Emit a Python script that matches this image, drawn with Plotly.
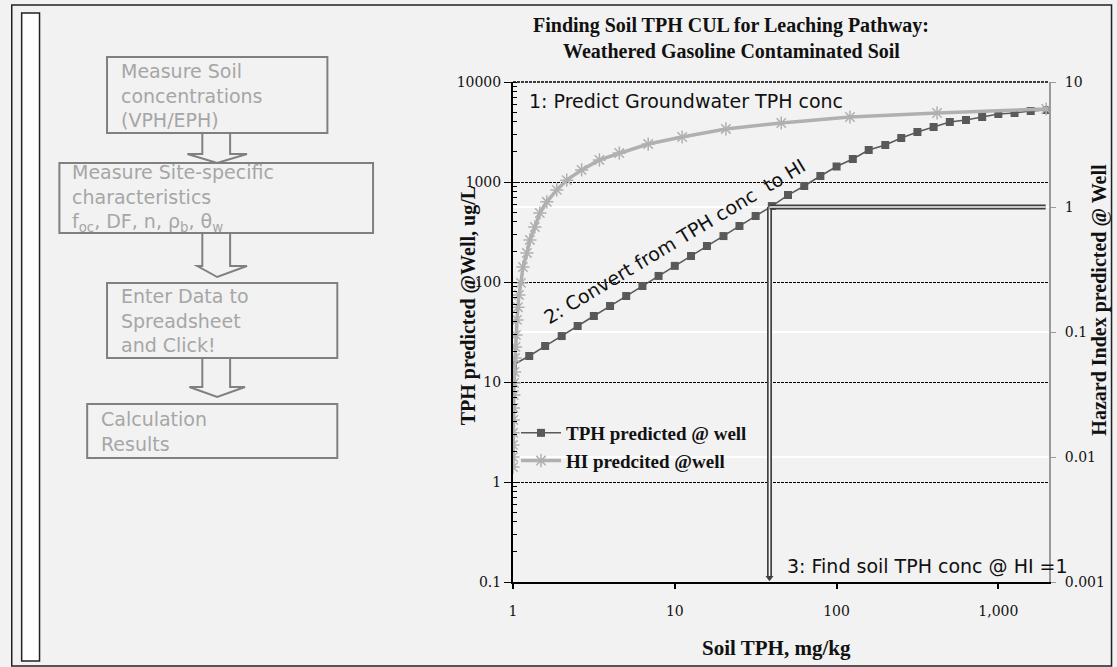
import plotly.graph_objects as go

# ---------------- data ----------------
soil_tph = [1, 1.26, 1.58, 2.0, 2.51, 3.16, 3.98, 5.01, 6.31, 7.94, 10, 12.6, 15.8, 20,
            25.1, 31.6, 39.8, 50.1, 63.1, 79.4, 100, 126, 158, 200, 251, 316, 398, 501,
            631, 794, 1000, 1259, 1585, 1995]
tph_well = [14.8, 18.2, 22.9, 28.8, 36.3, 45.7, 57.5, 72.4, 91.2, 115, 145, 182, 229, 288,
            363, 457, 575, 741, 912, 1148, 1429, 1698, 2089, 2344, 2754, 3162, 3548, 3981,
            4169, 4467, 4786, 4898, 5129, 5248]

hi_soil = [1.0, 1.0, 1.0, 1.002, 1.004, 1.008, 1.012, 1.016, 1.022, 1.029, 1.036, 1.043,
           1.058, 1.073, 1.088, 1.12, 1.152, 1.219, 1.272, 1.365, 1.465, 1.618, 1.865,
           2.148, 2.655, 3.42, 4.54, 6.85, 11.1, 20.7, 45.5, 121, 418, 1975]
hi_well = [0.0083, 0.0100, 0.0125, 0.0156, 0.0198, 0.0247, 0.0313, 0.0391, 0.0479, 0.0619,
           0.0759, 0.0946, 0.125, 0.158, 0.198, 0.247, 0.331, 0.429, 0.545, 0.692, 0.895,
           1.10, 1.37, 1.64, 1.98, 2.38, 2.70, 3.19, 3.63, 4.21, 4.70, 5.25, 5.65, 6.08]

x_ticks = [1, 10, 100, 1000]
x_tick_labels = ["1", "10", "100", "1,000"]
y_ticks = [0.1, 1, 10, 100, 1000, 10000]
y_tick_labels = ["0.1", "1", "10", "100", "1000", "10000"]
y2_ticks = [0.001, 0.01, 0.1, 1, 10]
y2_tick_labels = ["0.001", "0.01", "0.1", "1", "10"]

# guide for step 3: soil TPH where HI = 1
guide_soil = [38.5, 38.5]
guide_hi_vertical = [1, 0.00108]
guide_soil_h = [38.5, 1960]
guide_hi_h = [1, 1]

flow_steps = [
    ["Measure Soil", "concentrations", "(VPH/EPH)"],
    ["Measure Site-specific", "characteristics",
     "f<sub>oc</sub>, DF, n, \u03c1<sub>b</sub>, \u03b8<sub>w</sub>"],
    ["Enter Data to", "Spreadsheet", "and Click!"],
    ["Calculation", "Results"],
]

# ---------------- layout geometry (pixels) ----------------
W, H = 1117, 667
L, R, T, B = 513, 1053, 82, 582


def px(x):
    return (x - L) / (R - L)


def py(y):
    return (B - y) / (B - T)


SERIF = "Liberation Serif"
TICKF = dict(family="DejaVu Serif", size=14, color="#111")
DARK = "#595959"
LIGHT = "#b0b0b0"

fig = go.Figure()
fig.add_trace(go.Scatter(
    x=soil_tph, y=tph_well, mode="lines+markers", name="<b>TPH predicted @ well</b>",
    line=dict(color=DARK, width=1.5),
    marker=dict(symbol="square", size=8, color=DARK)))
fig.add_trace(go.Scatter(
    x=hi_soil, y=hi_well, yaxis="y2", mode="lines+markers", name="<b>HI predcited @well</b>",
    line=dict(color=LIGHT, width=3.5),
    marker=dict(symbol="asterisk-open", size=11, color=LIGHT,
                line=dict(color="#a3a3a3", width=1.5))))

# hollow guide lines
for xs, ys in [(guide_soil, guide_hi_vertical), (guide_soil_h, guide_hi_h)]:
    fig.add_trace(go.Scatter(x=xs, y=ys, yaxis="y2", mode="lines", showlegend=False,
                             hoverinfo="skip", line=dict(color="#404040", width=5)))
    fig.add_trace(go.Scatter(x=xs, y=ys, yaxis="y2", mode="lines", showlegend=False,
                             hoverinfo="skip", line=dict(color="#f6f6f6", width=1.6)))
fig.add_trace(go.Scatter(x=[guide_soil[1]], y=[guide_hi_vertical[1]], yaxis="y2",
                         mode="markers", showlegend=False, hoverinfo="skip",
                         marker=dict(symbol="triangle-down", size=7, color="#404040")))

shapes = []
annotations = []

# outer frame and left bar
shapes.append(dict(type="rect", xref="paper", yref="paper", x0=px(8), x1=px(1116),
                   y0=py(5), y1=py(666), line=dict(color="#222", width=1.5), layer="below"))
shapes.append(dict(type="rect", xref="paper", yref="paper", x0=px(18), x1=px(36),
                   y0=py(13), y1=py(661), line=dict(color="#222", width=1.5),
                   fillcolor="white", layer="below"))
# dotted top gridline (10000)
shapes.append(dict(type="line", xref="paper", yref="paper", x0=0, x1=1, y0=1, y1=1,
                   line=dict(color="black", width=1.4, dash="3px,1px")))

# flow chart boxes
boxes = [(104, 326, 57, 133), (56, 372, 163, 233), (104, 336, 283, 358), (84, 336, 404, 458)]
text_x = [116, 67, 116, 96]
BOXC = "#808080"
TXTC = "#a6a6a6"
for (x0, x1, y0, y1), tx, lines in zip(boxes, text_x, flow_steps):
    shapes.append(dict(type="rect", xref="paper", yref="paper", x0=px(x0), x1=px(x1),
                       y0=py(y0), y1=py(y1), line=dict(color=BOXC, width=2)))
    annotations.append(dict(xref="paper", yref="paper", x=px(tx), y=py((y0 + y1) / 2),
                            text="<br>".join(lines), align="left",
                            showarrow=False, xanchor="left", yanchor="middle",
                            font=dict(family="DejaVu Sans", size=19, color=TXTC)))

# hollow block arrows between boxes
arrows = [(133, 154, 185, 245, 163), (233, 266, 195, 245, 277), (358, 387, 187, 243, 397)]
for top, head_y, hx0, hx1, tip in arrows:
    sx0, sx1, cx = 200, 228, 215
    path = (f"M {px(sx0)},{py(top)} L {px(sx0)},{py(head_y)} L {px(hx0)},{py(head_y)} "
            f"L {px(cx)},{py(tip)} L {px(hx1)},{py(head_y)} L {px(sx1)},{py(head_y)} "
            f"L {px(sx1)},{py(top)}")
    shapes.append(dict(type="path", xref="paper", yref="paper", path=path,
                       line=dict(color=BOXC, width=2)))


def note(x, y, text, font, angle=0, xanchor="center"):
    return dict(xref="paper", yref="paper", x=px(x), y=py(y), showarrow=False,
                text=text, font=font, textangle=angle, xanchor=xanchor, yanchor="middle")


TF = dict(family=SERIF, size=20, color="#111")
SF = dict(family="DejaVu Sans", size=19, color="#111")
annotations += [
    note(733, 26, "<b>Finding Soil TPH CUL for Leaching Pathway:</b>", TF),
    note(733, 51, "<b>Weathered Gasoline Contaminated Soil</b>", TF),
    note(778, 648, "<b>Soil TPH, mg/kg</b>", dict(family=SERIF, size=21, color="#111")),
    note(468, 306, "<b>TPH predicted @Well, ug/L</b>", TF, angle=-90),
    note(1103, 300, "<b>Hazard Index predicted @ Well</b>", TF, angle=-90),
    note(527, 101, "1: Predict Groundwater TPH conc", SF, xanchor="left"),
    note(676, 241, "2: Convert from TPH conc  to HI", SF, angle=-31),
    note(787, 566, "3: Find soil TPH conc @ HI =1", SF, xanchor="left"),
]

fig.update_layout(
    width=W, height=H,
    margin=dict(l=L, r=W - R, t=T, b=H - B, pad=0),
    paper_bgcolor="#f2f2f2", plot_bgcolor="#f2f2f2",
    showlegend=True,
    legend=dict(x=px(516), y=py(414), xanchor="left", yanchor="top",
                bgcolor="rgba(0,0,0,0)", font=dict(family=SERIF, size=19, color="#111"),
                tracegroupgap=0, itemwidth=40),
    xaxis=dict(type="log", range=[0, 3.313], tickvals=x_ticks, ticktext=x_tick_labels,
               showline=True, linecolor="black", linewidth=2, ticks="outside",
               ticklen=5, tickcolor="black", tickwidth=2, showgrid=False, zeroline=False,
               tickfont=TICKF, ticklabelstandoff=10),
    yaxis=dict(type="log", range=[-1, 4], tickvals=y_ticks, ticktext=y_tick_labels,
               showline=True, linecolor="black", linewidth=2, ticks="outside",
               ticklen=7, tickcolor="black", showgrid=True, gridcolor="black",
               griddash="3px,1px", gridwidth=1.4, zeroline=False, tickfont=TICKF,
               minor=dict(ticks="inside", ticklen=4, tickcolor="black", dtick="D1",
                          showgrid=False)),
    yaxis2=dict(type="log", range=[-3, 1], overlaying="y", side="right",
                tickvals=y2_ticks, ticktext=y2_tick_labels, showline=True,
                linecolor="#9a9a9a", linewidth=2, ticks="outside", ticklen=5,
                tickcolor="#9a9a9a", showgrid=True, gridcolor="white", gridwidth=1.5,
                zeroline=False, tickfont=TICKF, ticklabelstandoff=6),
    shapes=shapes, annotations=annotations,
)

fig.write_html("out.html", config={"displayModeBar": False},
               post_script="document.body.style.margin='0';")
